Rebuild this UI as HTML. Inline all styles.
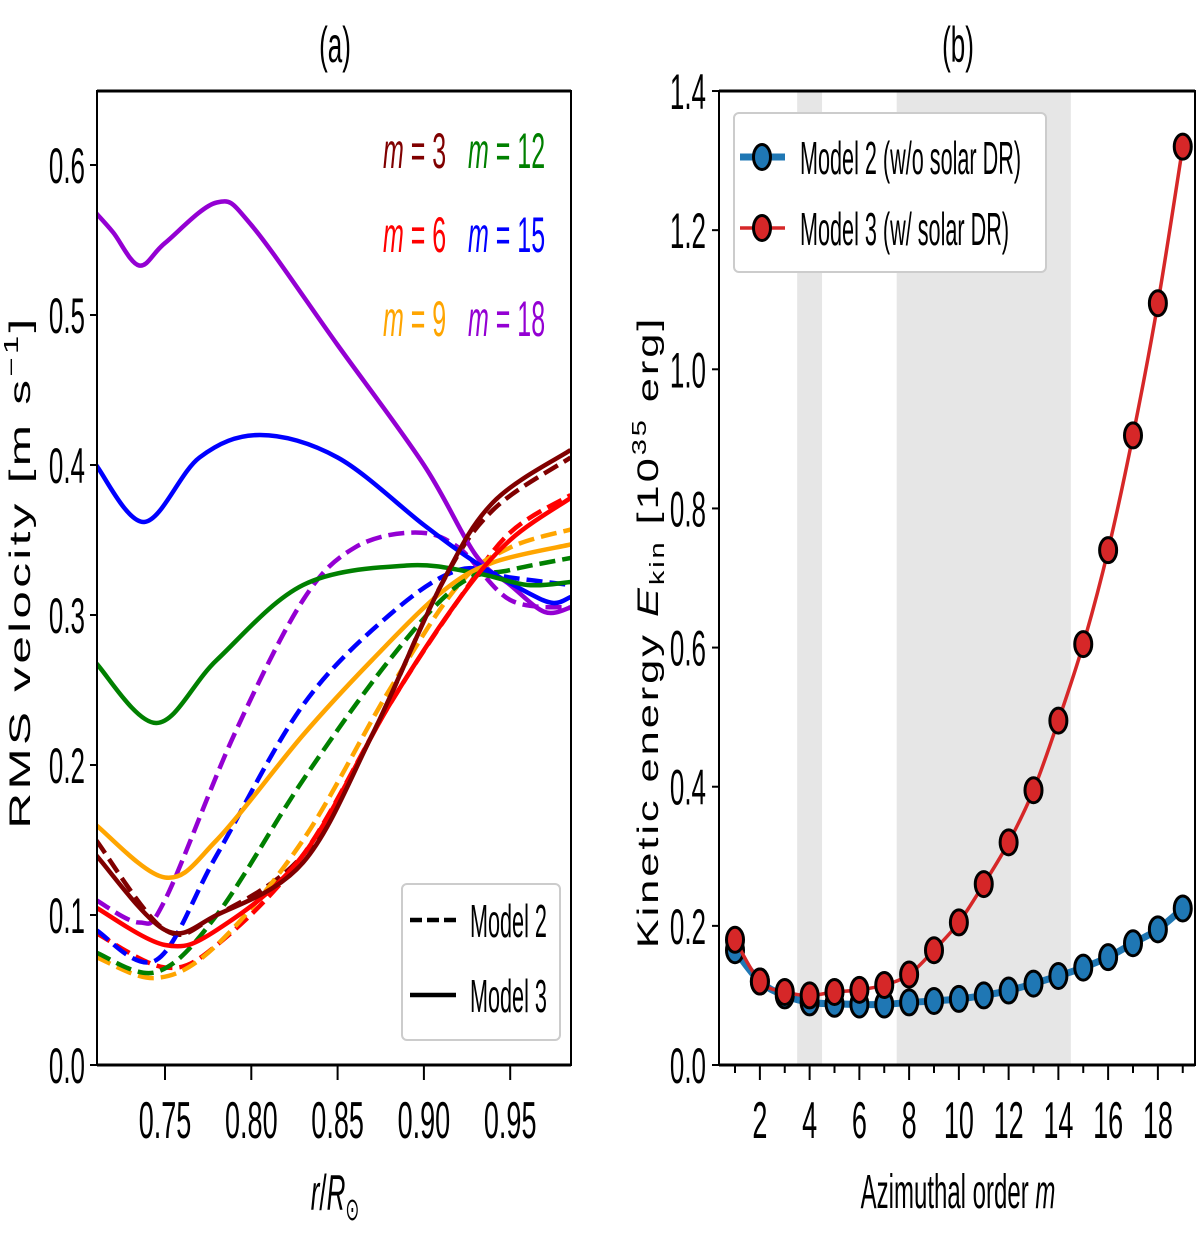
<!DOCTYPE html>
<html><head><meta charset="utf-8"><style>body{margin:0;background:#fff}svg{display:block}text{font-family:"Liberation Sans","DejaVu Sans",sans-serif}</style></head>
<body>
<svg id="fig" width="1200" height="1233" viewBox="0 0 1200 1233" xmlns="http://www.w3.org/2000/svg">
<g id="pa"></g>
<g id="pb"></g>
</svg>
<script>
// Panel (a) data
const rTicks = [0.75, 0.80, 0.85, 0.90, 0.95];
const vTicks = [0.0, 0.1, 0.2, 0.3, 0.4, 0.5, 0.6];
const mColors = {3:"#800000",6:"#ff0000",9:"#ffa500",12:"#008000",15:"#0000ff",18:"#9400d3"};
const solid3_r=[0.71,0.75,0.78,0.83,0.87,0.91,0.94,0.985], solid3_v=[0.14,0.09,0.10,0.135,0.22,0.32,0.375,0.41];
const solid6_r=[0.71,0.75,0.78,0.83,0.88,0.92,0.95,0.985], solid6_v=[0.105,0.08,0.09,0.14,0.24,0.31,0.35,0.378];
const solid9_r=[0.71,0.75,0.78,0.83,0.87,0.91,0.94,0.985], solid9_v=[0.16,0.125,0.15,0.22,0.27,0.315,0.335,0.347];
const solid12_r=[0.71,0.745,0.78,0.83,0.89,0.93,0.96,0.985], solid12_v=[0.268,0.228,0.27,0.32,0.333,0.328,0.32,0.322];
const solid15_r=[0.71,0.738,0.77,0.805,0.85,0.90,0.93,0.96,0.975,0.985], solid15_v=[0.40,0.362,0.405,0.42,0.405,0.36,0.335,0.315,0.308,0.312];
const solid18_r=[0.71,0.72,0.735,0.75,0.78,0.80,0.85,0.90,0.93,0.95,0.97,0.985], solid18_v=[0.568,0.555,0.533,0.548,0.575,0.56,0.48,0.40,0.34,0.32,0.302,0.305];
const dash3_r=[0.71,0.75,0.78,0.83,0.87,0.91,0.94,0.985], dash3_v=[0.15,0.09,0.10,0.14,0.22,0.32,0.37,0.405];
const dash6_r=[0.71,0.75,0.78,0.83,0.88,0.92,0.95,0.985], dash6_v=[0.088,0.065,0.08,0.14,0.24,0.31,0.355,0.38];
const dash9_r=[0.71,0.745,0.78,0.83,0.88,0.92,0.95,0.985], dash9_v=[0.072,0.058,0.08,0.15,0.25,0.32,0.345,0.357];
const dash12_r=[0.71,0.745,0.78,0.83,0.88,0.92,0.95,0.985], dash12_v=[0.075,0.062,0.10,0.19,0.27,0.32,0.33,0.338];
const dash15_r=[0.71,0.745,0.78,0.83,0.88,0.92,0.95,0.985], dash15_v=[0.09,0.07,0.14,0.24,0.30,0.33,0.325,0.32];
const dash18_r=[0.71,0.735,0.75,0.79,0.83,0.86,0.895,0.92,0.95,0.985], dash18_v=[0.11,0.095,0.11,0.22,0.31,0.345,0.355,0.345,0.31,0.305];

// Panel (b) data
const mOrders = [1,2,3,4,5,6,7,8,9,10,11,12,13,14,15,16,17,18,19];
const ekinModel2 = [0.165,0.12,0.10,0.09,0.088,0.087,0.087,0.09,0.092,0.095,0.10,0.107,0.117,0.128,0.14,0.155,0.175,0.195,0.225];
const ekinModel3 = [0.18,0.12,0.105,0.10,0.105,0.108,0.115,0.13,0.165,0.205,0.26,0.32,0.395,0.495,0.605,0.74,0.905,1.095,1.32];
const mTicks = [2,4,6,8,10,12,14,16,18];
const eTicks = [0.0,0.2,0.4,0.6,0.8,1.0,1.2,1.4];
const shadeBands = [[3.5,4.5],[7.5,14.5]];

const NS="http://www.w3.org/2000/svg";
function mk(tag,attrs,parent){const e=document.createElementNS(NS,tag);for(const k in attrs)e.setAttribute(k,attrs[k]);parent.appendChild(e);return e;}
function txt(s,x,y,size,parent,anchor,fill,sx){const e=mk('text',{x:0,y:0,'font-size':size,'text-anchor':anchor||'middle',fill:fill||'#000',transform:`translate(${x},${y}) scale(${sx||0.52},1)`},parent);e.textContent=s;return e;}
function smooth(pts){let d=`M${pts[0][0]},${pts[0][1]}`;for(let i=0;i<pts.length-1;i++){const p0=pts[i-1]||pts[i],p1=pts[i],p2=pts[i+1],p3=pts[i+2]||p2;const c1=[p1[0]+(p2[0]-p0[0])/6,p1[1]+(p2[1]-p0[1])/6],c2=[p2[0]-(p3[0]-p1[0])/6,p2[1]-(p3[1]-p1[1])/6];d+=` C${c1[0]},${c1[1]} ${c2[0]},${c2[1]} ${p2[0]},${p2[1]}`;}return d;}

// Panel a
const pa=document.getElementById('pa');
const ax=r=>165+(r-0.75)/0.05*86.3, ay=v=>1065-v*1500;
const clipA=mk('clipPath',{id:'ca'},pa);mk('rect',{x:97,y:91,width:474,height:974},clipA);
const curvesA=mk('g',{'clip-path':'url(#ca)'},pa);


const seriesA=[[3,dash3_r,dash3_v,true],[6,dash6_r,dash6_v,true],[9,dash9_r,dash9_v,true],[12,dash12_r,dash12_v,true],[15,dash15_r,dash15_v,true],[18,dash18_r,dash18_v,true],
[18,solid18_r,solid18_v,false],[15,solid15_r,solid15_v,false],[12,solid12_r,solid12_v,false],[9,solid9_r,solid9_v,false],[6,solid6_r,solid6_v,false],[3,solid3_r,solid3_v,false]];
seriesA.forEach(([m,rs,vs,dash])=>{const p=mk('path',{d:smooth(rs.map((r,i)=>[ax(r),ay(vs[i])])),fill:'none',stroke:mColors[m],'stroke-width':4.5,'stroke-dasharray':dash?'16,7':'none'},curvesA);

});
mk('rect',{x:97,y:91,width:474,height:974,fill:'none',stroke:'#000','stroke-width':2},pa);
mk('line',{x1:97,y1:91,x2:571,y2:91,stroke:'#000','stroke-width':3},pa);
mk('line',{x1:97,y1:1065,x2:571,y2:1065,stroke:'#000','stroke-width':3},pa);
vTicks.forEach(v=>{mk('line',{x1:90,x2:97,y1:ay(v),y2:ay(v),stroke:'#000','stroke-width':2},pa);const t=txt(v.toFixed(1),85,ay(v)+18,50,pa,'end');});
rTicks.forEach(r=>{mk('line',{x1:ax(r),x2:ax(r),y1:1065,y2:1080,stroke:'#000','stroke-width':2},pa);const t=txt(r.toFixed(2),ax(r),1138,52,pa);});
const ta=txt('(a)',335,62,50,pa);
const xla=mk('text',{x:0,y:0,'font-size':50,'text-anchor':'middle',transform:'translate(335,1210) scale(0.52,1)'},pa);
xla.innerHTML='<tspan font-style="italic">r</tspan>/<tspan font-style="italic">R</tspan><tspan font-size="32" dy="10">⊙</tspan>';

const yla=mk('text',{x:0,y:0,'font-size':30,'text-anchor':'middle','letter-spacing':'2',transform:'translate(30,572) rotate(-90) scale(1.65,1)'},pa);
yla.innerHTML='RMS velocity [m s<tspan font-size="20" dy="-12">−1</tspan><tspan dy="12">]</tspan>';

[[3,383,168],[12,468,168],[6,383,252],[15,468,252],[9,383,336],[18,468,336]].forEach(([m,x,y])=>{const e=mk('text',{x:0,y:0,'font-size':50,fill:mColors[m],transform:`translate(${x},${y}) scale(0.5,1)`},pa);e.innerHTML='<tspan font-style="italic">m</tspan> = '+m;
});
const lga=mk('g',{},pa);
mk('rect',{x:402,y:884,width:158,height:156,rx:5,fill:'#fff',stroke:'#ccc','stroke-width':2},lga);
mk('line',{x1:410,x2:456,y1:920,y2:920,stroke:'#000','stroke-width':4.5,'stroke-dasharray':'12,5'},lga);
mk('line',{x1:410,x2:456,y1:995,y2:995,stroke:'#000','stroke-width':4.5},lga);
txt('Model 2',470,937,46,lga,'start','#000',0.47);txt('Model 3',470,1012,46,lga,'start','#000',0.47);

// Panel b
const pb=document.getElementById('pb');
const bx=m=>735+(m-1)*24.875, by=v=>1065-v*695.7;
shadeBands.forEach(([a,b])=>{const r=mk('rect',{x:bx(a),y:91,width:bx(b)-bx(a),height:974,fill:'#e6e6e6'},pb);});
[[ekinModel2,'#1f77b4',7,'model2'],[ekinModel3,'#d62728',3.5,'model3']].forEach(([vals,c,w,n])=>{
const g=mk('g',{},pb);
mk('path',{d:smooth(mOrders.map((m,i)=>[bx(m),by(vals[i])])),fill:'none',stroke:c,'stroke-width':w},g);
mOrders.forEach((m,i)=>{const e=mk('ellipse',{cx:bx(m),cy:by(vals[i]),rx:8.5,ry:12.5,fill:c,stroke:'#000','stroke-width':3},g);});});
mk('rect',{x:719,y:91,width:476,height:974,fill:'none',stroke:'#000','stroke-width':2},pb);
mk('line',{x1:719,y1:91,x2:1195,y2:91,stroke:'#000','stroke-width':3},pb);
mk('line',{x1:719,y1:1065,x2:1195,y2:1065,stroke:'#000','stroke-width':3},pb);
eTicks.forEach(v=>{mk('line',{x1:712,x2:719,y1:by(v),y2:by(v),stroke:'#000','stroke-width':2},pb);const t=txt(v.toFixed(1),706,by(v)+18,50,pb,'end');});
mOrders.forEach(m=>mk('line',{x1:bx(m),x2:bx(m),y1:1065,y2:mTicks.includes(m)?1080:1073,stroke:'#000','stroke-width':2},pb));
mTicks.forEach(m=>{const t=txt(String(m),bx(m),1138,52,pb);});
const tb=txt('(b)',958,62,50,pb);
const xlb=mk('text',{x:0,y:0,'font-size':48,'text-anchor':'middle',transform:'translate(958,1208) scale(0.5,1)'},pb);
xlb.innerHTML='Azimuthal order <tspan font-style="italic">m</tspan>';

const ylb=mk('text',{x:0,y:0,'font-size':30,'text-anchor':'middle','letter-spacing':'2',transform:'translate(658,632) rotate(-90) scale(1.45,1)'},pb);
ylb.innerHTML='Kinetic energy <tspan font-style="italic">E</tspan><tspan font-size="20" dy="6">kin</tspan><tspan dy="-6"> [10</tspan><tspan font-size="20" dy="-12">35</tspan><tspan dy="12"> erg]</tspan>';

const lgb=mk('g',{},pb);
mk('rect',{x:734,y:113,width:312,height:159,rx:5,fill:'#fff',stroke:'#ccc','stroke-width':2},lgb);
mk('line',{x1:740,x2:785,y1:157,y2:157,stroke:'#1f77b4','stroke-width':7},lgb);
mk('ellipse',{cx:762,cy:157,rx:8.5,ry:12.5,fill:'#1f77b4',stroke:'#000','stroke-width':3},lgb);
mk('line',{x1:740,x2:785,y1:228,y2:228,stroke:'#d62728','stroke-width':3.5},lgb);
mk('ellipse',{cx:762,cy:228,rx:8.5,ry:12.5,fill:'#d62728',stroke:'#000','stroke-width':3},lgb);
txt('Model 2 (w/o solar DR)',800,174,46,lgb,'start','#000',0.47);txt('Model 3 (w/ solar DR)',800,245,46,lgb,'start','#000',0.47);
</script>
</body></html>
